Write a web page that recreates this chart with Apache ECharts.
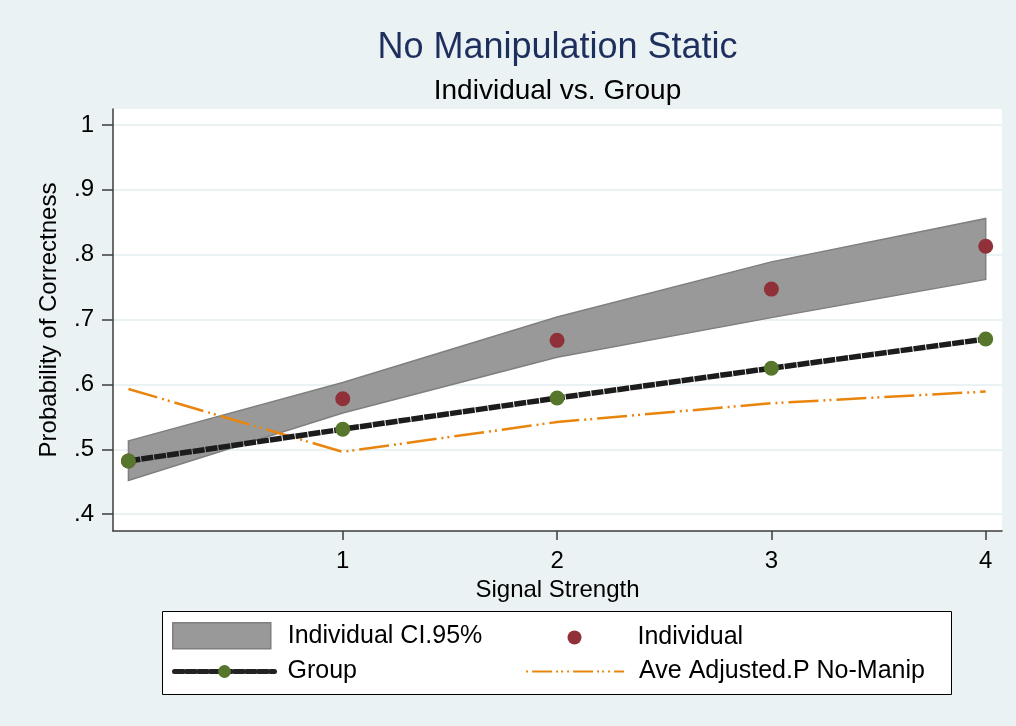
<!DOCTYPE html>
<html>
<head>
<meta charset="utf-8">
<script src="https://cdn.jsdelivr.net/npm/echarts@6/dist/echarts.min.js"></script>
<style>
  html, body { margin: 0; padding: 0; background: #eaf2f3; }
  #chart { width: 1016px; height: 726px; }
</style>
</head>
<body>
<div id="chart"></div>
<script>
// signal strength
const signal = [0, 1, 2, 3, 4]
// Individual 95% CI bounds
const ciLower = [0.452, 0.556, 0.642, 0.703, 0.762]
const ciUpper = [0.513, 0.603, 0.704, 0.789, 0.856]
// point estimates
const individual = [0.482, 0.578, 0.668, 0.747, 0.813]
const group = [0.482, 0.531, 0.579, 0.625, 0.670]
const aveAdjusted = [0.593, 0.496, 0.542, 0.571, 0.589]
// ticks
const xTicks = [1, 2, 3, 4]
const yTicks = [0.4, 0.5, 0.6, 0.7, 0.8, 0.9, 1]

const FONT = '"Liberation Sans", Arial, sans-serif'
const chart = echarts.init(document.getElementById('chart'))

const pairs = arr => signal.map((x, i) => [x, arr[i]])

const legendBase = {
  orient: 'horizontal',
  padding: 0,
  symbolKeepAspect: true,
  selectedMode: false,
  textStyle: { fontSize: 25, color: '#000', fontFamily: FONT }
}

// band polygon: upper edge left->right, then lower edge back
const renderBand = (params, api) => {
  if (params.dataIndex !== 0) return
  const pts = []
  for (let i = 0; i < signal.length; i++) pts.push(api.coord([signal[i], ciUpper[i]]))
  for (let i = signal.length - 1; i >= 0; i--) pts.push(api.coord([signal[i], ciLower[i]]))
  return {
    type: 'polygon',
    shape: { points: pts },
    style: { fill: '#999999', stroke: '#7f7f7f', lineWidth: 1.5 }
  }
}

const option = {
  backgroundColor: '#eaf2f3',
  animation: false,
  graphic: [
    {
      type: 'text', x: 557.5, y: 48,
      style: { text: 'No Manipulation Static', fill: '#1e2f5e', font: '36px ' + FONT, textAlign: 'center', textVerticalAlign: 'middle' }
    },
    {
      type: 'text', x: 557.5, y: 91,
      style: { text: 'Individual vs. Group', fill: '#000', font: '28px ' + FONT, textAlign: 'center', textVerticalAlign: 'middle' }
    },
    // legend frame
    {
      type: 'rect', z: -1,
      shape: { x: 162.5, y: 611.5, width: 789, height: 83 },
      style: { fill: '#fff', stroke: '#000', lineWidth: 1 }
    }
  ],
  grid: {
    left: 113, top: 109, right: 14, bottom: 195,
    show: true, backgroundColor: '#fff', borderWidth: 0
  },
  xAxis: {
    type: 'value', min: -0.072, max: 4.076,
    name: 'Signal Strength', nameLocation: 'middle', nameGap: 39,
    nameTextStyle: { fontSize: 24, color: '#000', fontFamily: FONT },
    axisLine: { show: true, onZero: false, lineStyle: { color: '#3c3c3c', width: 1.5 } },
    axisTick: { show: true, length: 9, customValues: xTicks, lineStyle: { color: '#3c3c3c', width: 1.5 } },
    axisLabel: { customValues: xTicks, fontSize: 24, color: '#000', fontFamily: FONT, margin: 18 },
    splitLine: { show: false }
  },
  yAxis: {
    type: 'value', min: 0.374, max: 1.0247,
    name: 'Probability of Correctness', nameLocation: 'middle', nameGap: 52, nameRotate: 90,
    nameTextStyle: { fontSize: 24, color: '#000', fontFamily: FONT },
    axisLine: { show: true, onZero: false, lineStyle: { color: '#3c3c3c', width: 1.5 } },
    axisTick: { show: true, length: 11, customValues: yTicks, lineStyle: { color: '#3c3c3c', width: 1.5 } },
    axisLabel: {
      customValues: yTicks, fontSize: 24, color: '#000', fontFamily: FONT, margin: 19,
      formatter: v => (v >= 1 ? '1' : String(Math.round(v * 10) / 10).replace(/^0/, ''))
    },
    splitLine: { show: true, lineStyle: { color: '#eaf2f3', width: 2 } }
  },
  legend: [
    Object.assign({}, legendBase, {
      left: 172, top: 622, itemWidth: 98, itemHeight: 26,
      data: [{ name: 'Individual CI.95%', icon: 'rect' }],
      itemStyle: { color: '#999999', borderColor: '#7f7f7f', borderWidth: 1.5 },
      textStyle: Object.assign({}, legendBase.textStyle, { padding: [0, 0, 0, 12] })
    }),
    Object.assign({}, legendBase, {
      left: 567.5, top: 625, itemWidth: 14, itemHeight: 14,
      data: [{ name: 'Individual', icon: 'circle' }],
      textStyle: Object.assign({}, legendBase.textStyle, { padding: [0, 0, 0, 51] })
    }),
    Object.assign({}, legendBase, {
      left: 172, top: 659, itemWidth: 100, itemHeight: 16,
      data: ['Group'],
      lineStyle: { color: '#222', width: 5, type: [9, 3], cap: 'round' },
      textStyle: Object.assign({}, legendBase.textStyle, { padding: [0, 0, 0, 8] })
    }),
    Object.assign({}, legendBase, {
      left: 525, top: 659, itemWidth: 98, itemHeight: 16,
      data: ['Ave Adjusted.P No-Manip'],
      itemStyle: { opacity: 0 },
      lineStyle: { color: '#e8850c', width: 2.2, type: [2, 4, 20, 4, 2, 3, 2, 4] },
      textStyle: Object.assign({}, legendBase.textStyle, { padding: [0, 0, 0, 10] })
    })
  ],
  series: [
    {
      name: 'Individual CI.95%', type: 'custom', z: 1, silent: true,
      data: signal.map((x, i) => [x, ciLower[i], ciUpper[i]]),
      encode: { x: 0, y: [1, 2] },
      renderItem: renderBand
    },
    {
      name: 'Ave Adjusted.P No-Manip', type: 'line', symbol: 'none', z: 2,
      data: pairs(aveAdjusted),
      lineStyle: { color: '#e8850c', width: 2.5, type: [30, 5, 2, 4, 2, 5] }
    },
    {
      name: 'Individual', type: 'scatter', symbol: 'circle', symbolSize: 15, z: 3,
      data: pairs(individual),
      itemStyle: { color: '#903139', opacity: 1 }
    },
    {
      name: 'Group', type: 'line', symbol: 'circle', symbolSize: 15, z: 4,
      data: pairs(group),
      lineStyle: { color: '#1c1c1c', width: 5.5, type: [12, 1] },
      itemStyle: { color: '#56762b', borderWidth: 0 }
    }
  ]
}

chart.setOption(option)
</script>
</body>
</html>
